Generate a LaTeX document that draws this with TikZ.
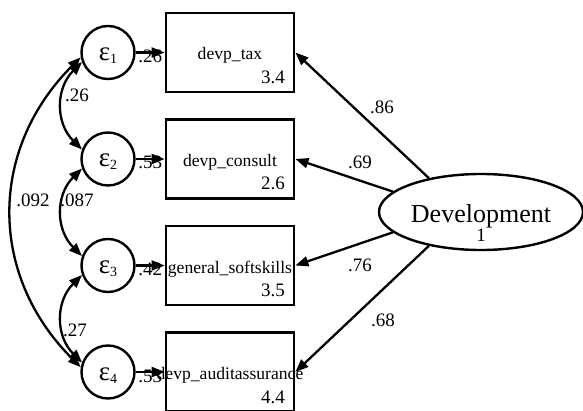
\documentclass[tikz,border=0pt]{standalone}
\usepackage{fontspec}
\setmainfont{Liberation Serif}
\usetikzlibrary{arrows.meta,calc,shapes.geometric}

\newcommand{\errlab}[1]{ε\raisebox{-3pt}{\fontsize{14}{14}\selectfont #1}}

\begin{document}
\begin{tikzpicture}[x=1pt,y=1pt,
  obs/.style={draw, line width=2.8pt, minimum width=128pt, minimum height=79pt, inner sep=0pt},
  err/.style={draw, circle, line width=2.4pt, minimum size=53pt, inner sep=0pt},
  lat/.style={draw, ellipse, line width=2.4pt, minimum width=204pt, minimum height=76pt, inner sep=0pt},
  path/.style={line width=2.3pt, -{Triangle[length=13pt,width=10pt]}},
  cov/.style={line width=2.3pt, {Triangle[length=13pt,width=10pt]}-{Triangle[length=13pt,width=10pt]}},
  vname/.style={font=\fontsize{17.6}{20}\selectfont, anchor=base},
  num/.style={font=\fontsize{19}{22}\selectfont},
  epsl/.style={font=\fontsize{27}{28}\selectfont, anchor=base},
]
\clip (0,0) rectangle (583,410);

% observed variables
\node[obs] (x1) at (230,357.5) {};
\node[obs] (x2) at (230,251) {};
\node[obs] (x3) at (230,144.5) {};
\node[obs] (x4) at (230,38) {};
\node[vname] at ([yshift=-7.5pt]x1.center) {devp\_tax};
\node[vname] at ([yshift=-7.5pt]x2.center) {devp\_consult};
\node[vname] at ([yshift=-7.5pt]x3.center) {general\_softskills};
\node[vname] at ([yshift=-7.5pt]x4.center) {devp\_auditassurance};
\node[num, anchor=base east] at ([xshift=-7pt,yshift=-31pt]x1.east) {3.4};
\node[num, anchor=base east] at ([xshift=-7pt,yshift=-31pt]x2.east) {2.6};
\node[num, anchor=base east] at ([xshift=-7pt,yshift=-31pt]x3.east) {3.5};
\node[num, anchor=base east] at ([xshift=-7pt,yshift=-31pt]x4.east) {4.4};

% error terms
\node[err] (e1) at (108,357.5) {};
\node[err] (e2) at (108,251) {};
\node[err] (e3) at (108,144.5) {};
\node[err] (e4) at (108,38) {};
\node[epsl] at ([yshift=-8pt]e1.center) {\errlab{1}};
\node[epsl] at ([yshift=-8pt]e2.center) {\errlab{2}};
\node[epsl] at ([yshift=-8pt]e3.center) {\errlab{3}};
\node[epsl] at ([yshift=-8pt]e4.center) {\errlab{4}};

% latent variable
\node[lat] (dev) at (481,198) {};
\node[font=\fontsize{26}{28}\selectfont, anchor=base] at ([yshift=-10pt]dev.center) {Development};
\node[num, anchor=base] at ([yshift=-30pt]dev.center) {1};

% labels
\node[num, anchor=base] at ([yshift=-10pt]$(e1.east)!0.5!(x1.west)$) {.26};
\node[num, anchor=base] at ([yshift=-10pt]$(e2.east)!0.5!(x2.west)$) {.53};
\node[num, anchor=base] at ([yshift=-10pt]$(e3.east)!0.5!(x3.west)$) {.42};
\node[num, anchor=base] at ([yshift=-10pt]$(e4.east)!0.5!(x4.west)$) {.53};
\node[num] at (382,303) {.86};
\node[num] at (360,248) {.69};
\node[num] at (360,145) {.76};
\node[num] at (383,90) {.68};
\node[num] at (77,315) {.26};
\node[num] at (77,210) {.087};
\node[num] at (33,210) {.092};
\node[num] at (75,80) {.27};

% paths
\draw[path] (e1.east) -- (x1.west);
\draw[path] (e2.east) -- (x2.west);
\draw[path] (e3.east) -- (x3.west);
\draw[path] (e4.east) -- (x4.west);
\draw[path] (dev.147) -- (x1.east);
\draw[path] (dev.167) -- (x2.east);
\draw[path] (dev.193) -- (x3.east);
\draw[path] (dev.213) -- (x4.east);

% covariances
\draw[cov] (e1.200) to[out=225,in=135,looseness=1.1] (e2.160);
\draw[cov] (e2.200) to[out=225,in=135,looseness=1.1] (e3.160);
\draw[cov] (e3.200) to[out=225,in=135,looseness=1.1] (e4.160);
\draw[cov] (e1.190) to[out=225,in=135,looseness=1.08] (e4.170);
\end{tikzpicture}
\end{document}
